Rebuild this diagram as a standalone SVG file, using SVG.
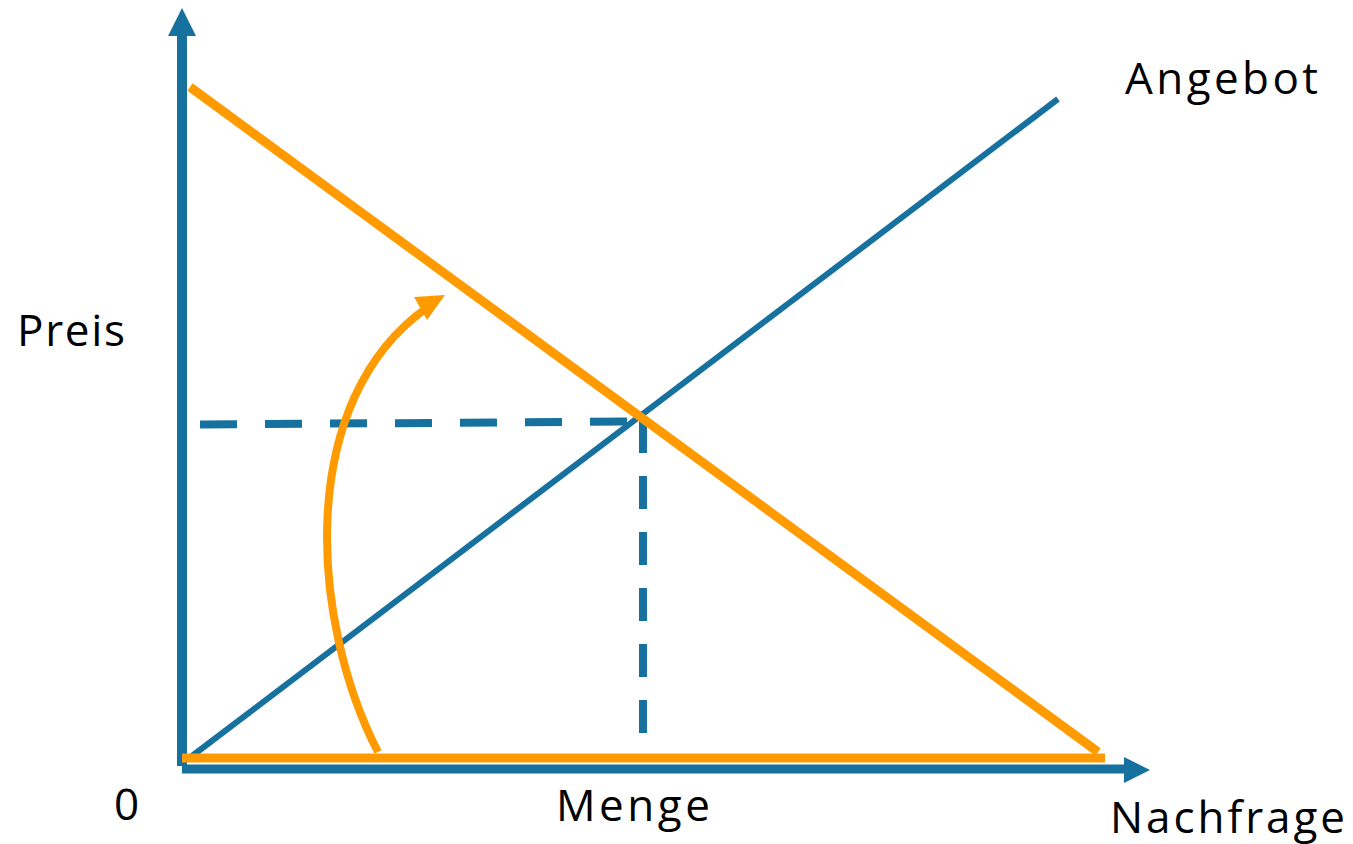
<svg xmlns="http://www.w3.org/2000/svg" width="1353" height="844" viewBox="0 0 1353 844">
<defs>
<style>
.blue{stroke:#17719F;fill:none}
.orange{stroke:#FF9B00;fill:none}
.lbl{font-family:"Open Sans","DejaVu Sans",sans-serif;font-size:44px;fill:#000}
</style>
</defs>
<rect width="1353" height="844" fill="#fff"/>
<g id="axes">
<line class="blue" x1="182" y1="766" x2="182" y2="30" stroke-width="10"/>
<polygon points="182,8 168,36 196,36" fill="#17719F"/>
<line class="blue" x1="182" y1="769" x2="1128" y2="769" stroke-width="9"/>
<polygon points="1150,770 1124,757 1124,783" fill="#17719F"/>
</g>
<g id="guides">
<line class="blue" x1="200" y1="424.5" x2="640" y2="421.5" stroke-width="8" stroke-dasharray="37,28"/>
<line class="blue" x1="643" y1="420" x2="643" y2="734" stroke-width="8" stroke-dasharray="33,23"/>
</g>
<g id="supply">
<line class="blue" x1="188" y1="759" x2="1058" y2="99" stroke-width="6"/>
</g>
<g id="demand">
<line class="orange" x1="190" y1="87" x2="1098" y2="752" stroke-width="9"/>
<line class="orange" x1="182" y1="758" x2="1105" y2="758" stroke-width="9"/>
</g>
<g id="shift-arrow">
<path class="orange" d="M378,752 C310,620 295,400 428,307" stroke-width="8"/>
<polygon points="445,295 414,297 427,320" fill="#FF9B00"/>
</g>
<g id="labels">
<text class="lbl" x="1125" y="94" textLength="193" lengthAdjust="spacing">Angebot</text>
<text class="lbl" x="17" y="346" textLength="108" lengthAdjust="spacing">Preis</text>
<text class="lbl" x="114" y="820">0</text>
<text class="lbl" x="556" y="821" textLength="154" lengthAdjust="spacing">Menge</text>
<text class="lbl" x="1110" y="833" textLength="235" lengthAdjust="spacing">Nachfrage</text>
</g>
</svg>
